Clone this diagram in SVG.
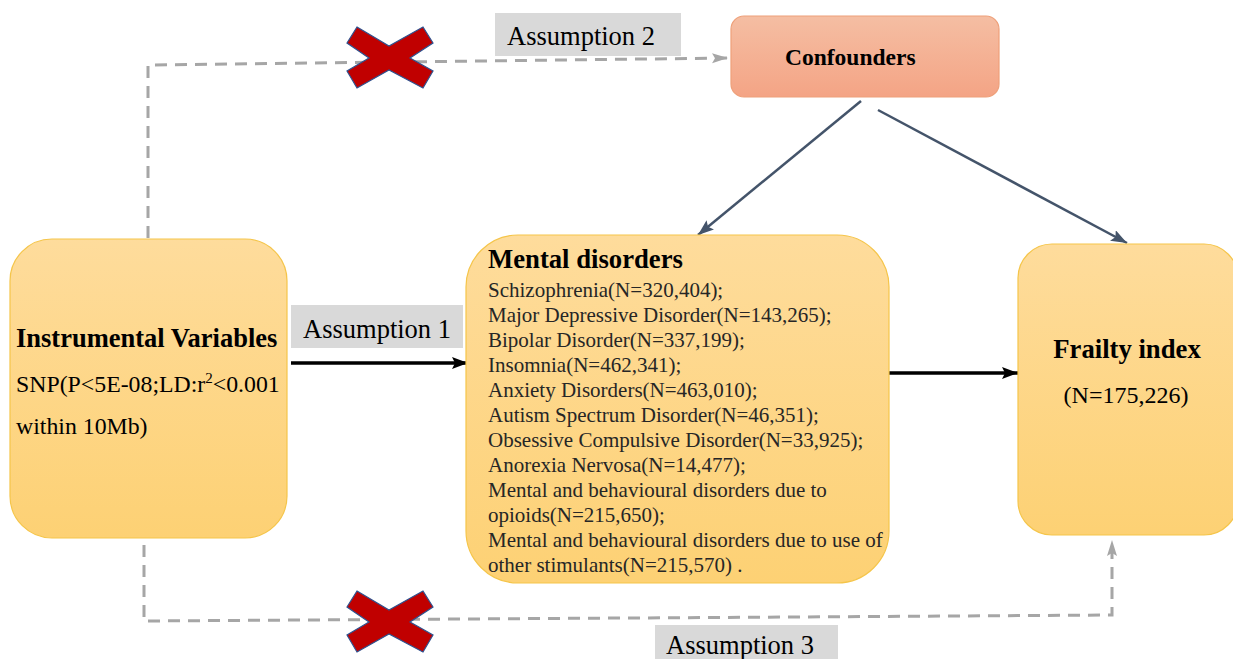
<svg xmlns="http://www.w3.org/2000/svg" width="1233" height="659" viewBox="0 0 1233 659">
<defs>
<linearGradient id="gY" x1="0" y1="0" x2="0" y2="1"><stop offset="0" stop-color="#fedc9c"/><stop offset="1" stop-color="#fdd174"/></linearGradient>
<linearGradient id="gO" x1="0" y1="0" x2="0" y2="1"><stop offset="0" stop-color="#f5bea3"/><stop offset="1" stop-color="#f4a485"/></linearGradient>
<marker id="mBlack" markerUnits="userSpaceOnUse" markerWidth="16" markerHeight="12" refX="16" refY="6" orient="auto"><path d="M0,0 L16,6 L0,12 L3,6 Z" fill="#000"/></marker>
<marker id="mSlate" markerUnits="userSpaceOnUse" markerWidth="16" markerHeight="12" refX="16" refY="6" orient="auto"><path d="M0,0 L16,6 L0,12 L3,6 Z" fill="#44546a"/></marker>
<marker id="mGray" markerUnits="userSpaceOnUse" markerWidth="16" markerHeight="12" refX="16" refY="6" orient="auto"><path d="M0,1 L16,6 L0,11 L3,6 Z" fill="#a6a6a6"/></marker>
<polygon id="cross" points="357,27 389,46 423,27 433,43 410,58 433,71 423,88 389,70 357,88 347,71 369,58 347,43"/>
</defs>
<style>
.box{fill:url(#gY);stroke:#f5c54a;stroke-width:1.2}
.conf{fill:url(#gO);stroke:#eea07a;stroke-width:1.2}
.lbl{fill:#d9d9d9}
.t{font-family:"Liberation Serif","Times New Roman",serif;fill:#000}
.b{font-weight:bold}
.item{font-family:"Liberation Serif","Times New Roman",serif;font-size:21px;fill:#262626}
.asm{font-family:"Liberation Serif","Times New Roman",serif;font-size:26.5px;fill:#000}
.dash{fill:none;stroke:#a6a6a6;stroke-width:3;stroke-dasharray:12 8}
.x{fill:#c00000;stroke:#2f528f;stroke-width:1.2}
</style>

<g id="connectors">
<path class="dash" d="M148,238 L148,65 L728,58" marker-end="url(#mGray)"/>
<path class="dash" d="M144,545 L144,621 L1112,615 L1112,540" marker-end="url(#mGray)"/>
<line x1="291" y1="363" x2="468" y2="363" stroke="#000" stroke-width="3.5" marker-end="url(#mBlack)"/>
<line x1="889" y1="373" x2="1018" y2="373" stroke="#000" stroke-width="3.5" marker-end="url(#mBlack)"/>
<line x1="861" y1="101" x2="698" y2="235" stroke="#44546a" stroke-width="2.5" marker-end="url(#mSlate)"/>
<line x1="878" y1="110" x2="1127" y2="243" stroke="#44546a" stroke-width="2.5" marker-end="url(#mSlate)"/>
</g>

<g id="labels">
<g id="assumption2"><rect class="lbl" x="495" y="13" width="186" height="43"/><text class="asm" x="507" y="45">Assumption 2</text></g>
<g id="assumption1"><rect class="lbl" x="291" y="305" width="172" height="43"/><text class="asm" x="303" y="338">Assumption 1</text></g>
<g id="assumption3"><rect class="lbl" x="655" y="625" width="183" height="40"/><text class="asm" x="666" y="654">Assumption 3</text></g>
</g>

<g id="crosses">
<use href="#cross" class="x"/>
<use href="#cross" class="x" transform="translate(0,564)"/>
</g>

<g id="confounders">
<rect class="conf" x="731" y="16" width="268" height="81" rx="13"/>
<text class="t b" x="785" y="65" font-size="23.5">Confounders</text>
</g>

<g id="instrumental">
<rect class="box" x="10" y="239" width="277" height="299" rx="42"/>
<text class="t b" x="16" y="347" font-size="26.5">Instrumental Variables</text>
<text class="t" x="16" y="392" font-size="23.8">SNP(P&lt;5E-08;LD:r<tspan font-size="15" dy="-9">2</tspan><tspan dy="9">&lt;0.001</tspan></text>
<text class="t" x="16" y="434" font-size="23.8">within 10Mb)</text>
</g>

<g id="mental">
<rect class="box" x="466" y="235" width="423" height="348" rx="52"/>
<text class="t b" x="488" y="268" font-size="26.7">Mental disorders</text>
<text class="item" x="488" y="297">Schizophrenia(N=320,404);</text>
<text class="item" x="488" y="322">Major Depressive Disorder(N=143,265);</text>
<text class="item" x="488" y="347">Bipolar Disorder(N=337,199);</text>
<text class="item" x="488" y="372">Insomnia(N=462,341);</text>
<text class="item" x="488" y="397">Anxiety Disorders(N=463,010);</text>
<text class="item" x="488" y="422">Autism Spectrum Disorder(N=46,351);</text>
<text class="item" x="488" y="447">Obsessive Compulsive Disorder(N=33,925);</text>
<text class="item" x="488" y="472">Anorexia Nervosa(N=14,477);</text>
<text class="item" x="488" y="497">Mental and behavioural disorders due to</text>
<text class="item" x="488" y="522">opioids(N=215,650);</text>
<text class="item" x="488" y="547">Mental and behavioural disorders due to use of</text>
<text class="item" x="488" y="572">other stimulants(N=215,570) .</text>
</g>

<g id="frailty">
<rect class="box" x="1018" y="244" width="220" height="291" rx="34"/>
<text class="t b" x="1127" y="358" font-size="26.7" text-anchor="middle">Frailty index</text>
<text class="t" x="1126" y="403" font-size="24" text-anchor="middle">(N=175,226)</text>
</g>
</svg>
